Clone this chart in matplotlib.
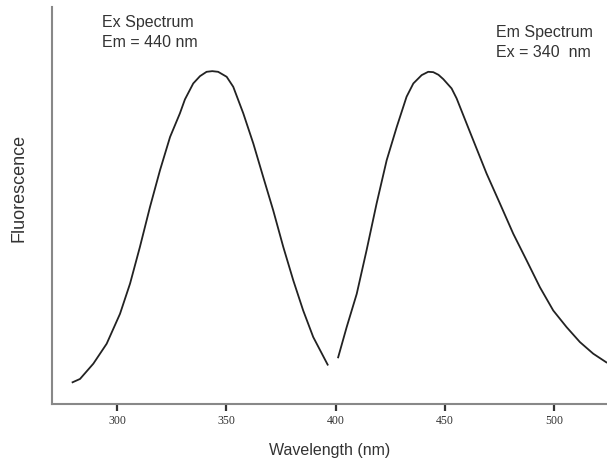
import matplotlib.pyplot as plt

# excitation spectrum (Em = 440 nm)
ex_wl = [279.6, 283.0, 289.1, 295.2, 301.3, 305.9, 310.4, 315.0, 319.6, 324.2,
         328.7, 331.0, 334.8, 337.9, 340.9, 343.5, 346.2, 350.1, 353.1, 357.7,
         362.3, 366.8, 371.4, 376.0, 380.6, 385.1, 389.7, 396.3]
ex_fl = [6.4, 7.4, 12.0, 18.0, 27.0, 36.1, 47.1, 59.1, 70.2, 80.2,
         87.3, 91.5, 96.3, 98.5, 99.8, 100.0, 99.8, 98.3, 95.3, 87.3,
         78.2, 68.2, 58.1, 47.1, 37.0, 28.0, 20.0, 11.7]

# emission spectrum (Ex = 340 nm)
em_wl = [401.1, 405.0, 409.6, 414.1, 418.7, 423.3, 427.9, 432.4, 435.5, 439.3,
         442.3, 444.6, 447.0, 449.2, 453.0, 455.3, 461.4, 469.0, 475.1, 481.2,
         487.3, 493.4, 499.5, 505.6, 511.7, 517.8, 523.8]
em_fl = [13.9, 23.0, 33.0, 46.1, 60.2, 73.2, 83.2, 92.3, 96.3, 98.8,
         99.8, 99.7, 98.9, 97.6, 94.8, 91.8, 81.7, 69.2, 60.2, 51.1,
         43.1, 35.0, 28.0, 23.0, 18.5, 15.0, 12.4]

xticks = [300, 350, 400, 450, 500]

fig = plt.figure(figsize=(6.07, 4.66), dpi=100)
ax = fig.add_axes([0.085, 0.134, 0.915, 0.851])

ax.plot(ex_wl, ex_fl, color='#222222', lw=1.3, solid_joinstyle='round')
ax.plot(em_wl, em_fl, color='#222222', lw=1.3, solid_joinstyle='round')

ax.set_xlim(270, 524.1)
ax.set_ylim(0, 119.3)

for s in ['top', 'right']:
    ax.spines[s].set_visible(False)
for s in ['left', 'bottom']:
    ax.spines[s].set_color('#888888')
    ax.spines[s].set_linewidth(1.5)

ax.set_xticks(xticks)
ax.set_xticklabels([str(t) for t in xticks], family='Liberation Serif', fontsize=8.5, color='#333333')
ax.tick_params(axis='x', direction='out', length=5, width=1.6, color='#333333', pad=3)
ax.set_yticks([])

ax.set_xlabel('Wavelength (nm)', family='Liberation Sans', fontsize=11.5, color='#333333', labelpad=12)
ax.set_ylabel('Fluorescence', family='Liberation Sans', fontsize=13, color='#333333')
ax.yaxis.set_label_coords(-0.044, 0.543)

ax.text(292.9, 116.8, 'Ex Spectrum\nEm = 440 nm', family='Liberation Sans', fontsize=11.5,
        color='#333333', ha='left', va='top', linespacing=1.4)
ax.text(473.1, 113.8, 'Em Spectrum\nEx = 340  nm', family='Liberation Sans', fontsize=11.5,
        color='#333333', ha='left', va='top', linespacing=1.4)

fig.savefig('out.png', dpi=100)
